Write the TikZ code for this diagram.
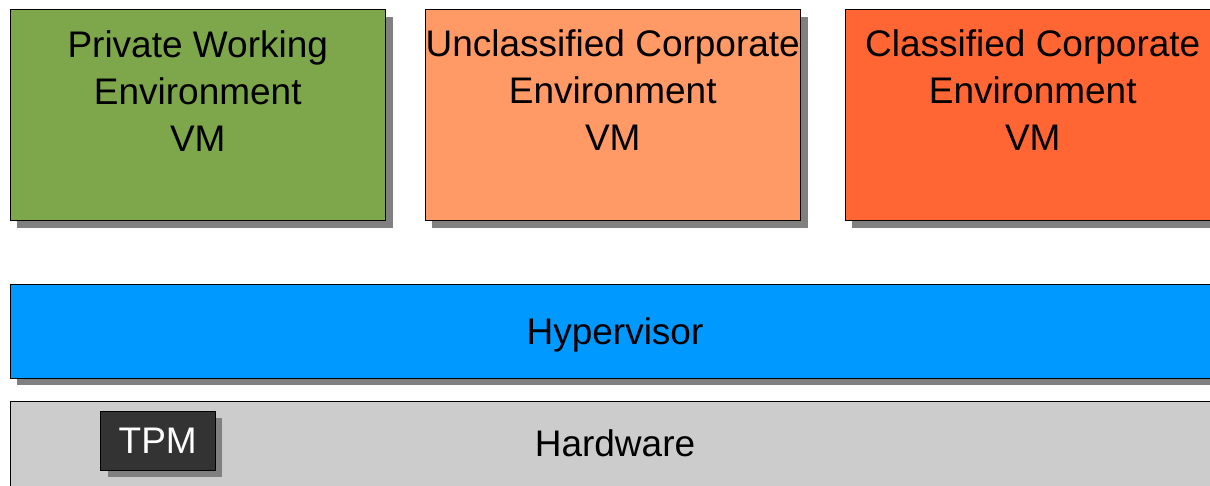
\documentclass[tikz,border=0pt]{standalone}
\usepackage{fontspec}
\setmainfont{Liberation Sans}
\usetikzlibrary{fit,shadows}

\definecolor{vmgreen}{HTML}{7EA64B}
\definecolor{vmpeach}{HTML}{FF9966}
\definecolor{vmred}{HTML}{FF6633}
\definecolor{hvblue}{HTML}{0099FF}
\definecolor{hwgrey}{HTML}{CCCCCC}
\definecolor{tpmdark}{HTML}{333333}
\definecolor{shadowgrey}{HTML}{808080}

\tikzset{
  layerbox/.style={draw=black, line width=0.8pt, inner sep=0pt,
    drop shadow={shadow xshift=7pt, shadow yshift=-7pt, fill=shadowgrey, opacity=1}},
  bigtext/.style={inner sep=0pt, font=\fontsize{37}{47}\selectfont, align=center},
}

\begin{document}
\begin{tikzpicture}[x=1pt, y=-1pt]
  \useasboundingbox (0,0) rectangle (1210,485);
  \clip (0,0) rectangle (1210,485);

  % virtual machines
  \node[layerbox, fill=vmgreen, fit={(10,9.5) (385.5,220.5)}] (pwe) {};
  \node[layerbox, fill=vmpeach, fit={(425,9.5) (800.5,220.5)}] (uce) {};
  \node[layerbox, fill=vmred,   fit={(845,9.5) (1220.5,220.5)}] (cce) {};

  \node[bigtext, anchor=north] (pwetext) at (pwe.center |- 0,30.2)
    {Private Working\\Environment\\VM};
  \node[bigtext, anchor=north] (ucetext) at (uce.center |- 0,29.8)
    {Unclassified Corporate\\Environment\\VM};
  \node[bigtext, anchor=north] (ccetext) at (cce.center |- 0,29.8)
    {Classified Corporate\\Environment\\VM};

  % hypervisor layer
  \node[layerbox, fill=hvblue, fit={(10,284) (1220,378)}] (hv) {};
  \node[bigtext, anchor=base] (hvtext) at (hv.center |- 0,344) {Hypervisor};

  % hardware layer with the TPM chip
  \node[layerbox, fill=hwgrey, fit={(10,401) (1220,490)}] (hw) {};
  \node[bigtext, anchor=base] (hwtext) at (hw.center |- 0,456) {Hardware};

  \node[layerbox, fill=tpmdark, fit={(100.5,411) (215,470)}] (tpm) {};
  \node[bigtext, anchor=base, text=white] (tpmtext) at (tpm.center |- 0,453) {TPM};
\end{tikzpicture}
\end{document}
